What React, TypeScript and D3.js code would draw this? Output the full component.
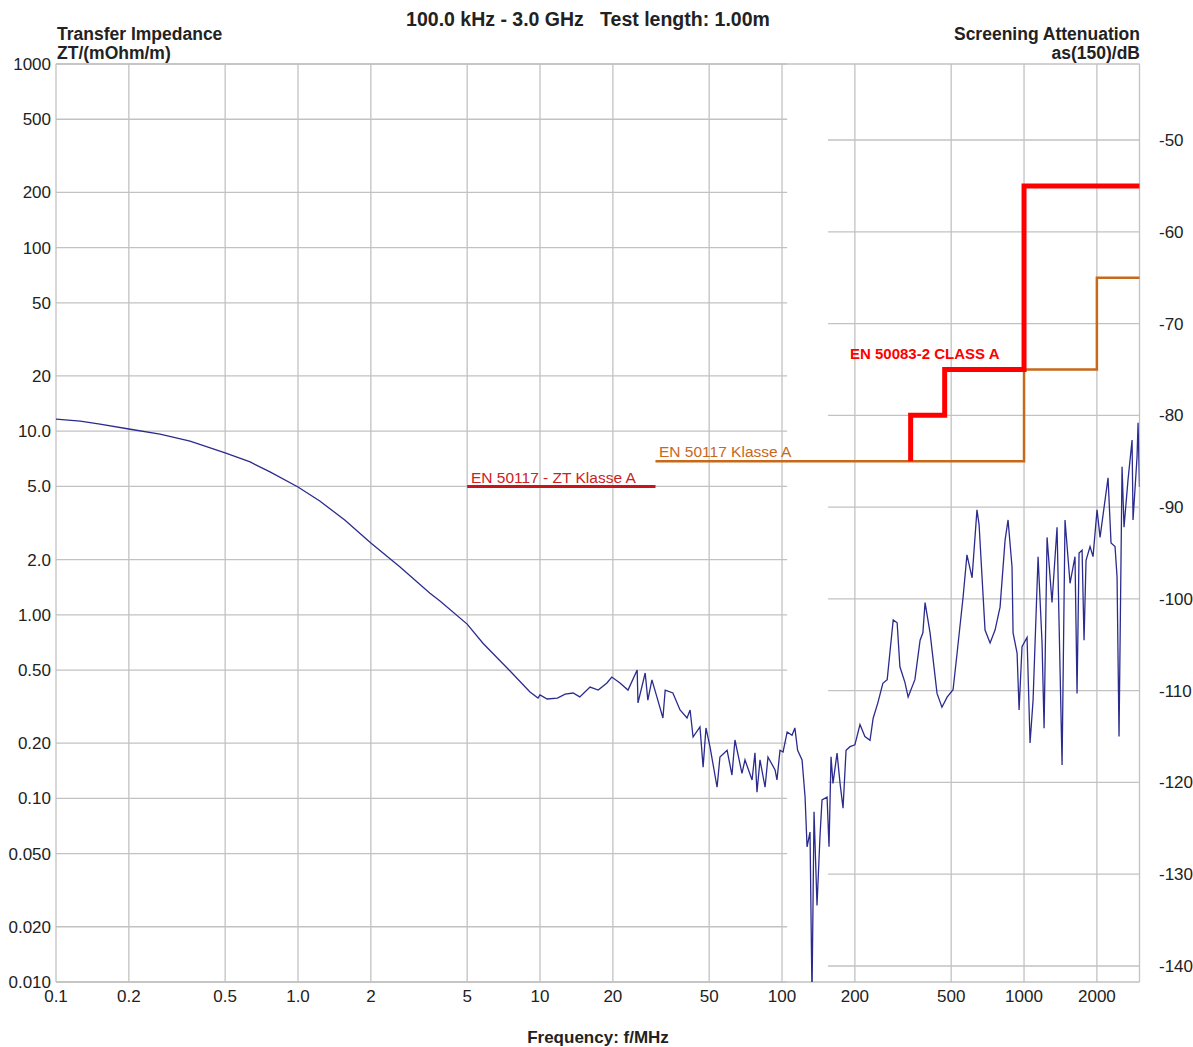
import * as d3 from 'd3';

// measured curve: transfer impedance (mOhm/m) up to ~130 MHz
const freqLow = [0.1, 0.126, 0.152, 0.2, 0.269, 0.358, 0.5, 0.634, 0.766, 1.0, 1.23, 1.56, 2.0, 2.64, 3.51, 3.86, 5.0, 5.81, 7.52, 9.09, 9.81, 10, 10.7, 11.8, 12.7, 13.7, 14.6, 16.1, 17.4, 18.9, 19.8, 21.4, 23.1, 25.2, 25.4, 27.2, 27.9, 29.0, 30.4, 32.2, 32.9, 35.4, 37.9, 40.5, 41.7, 42.9, 45.8, 47.2, 48.5, 50.4, 53.9, 55.4, 59.3, 62.1, 63.9, 68.3, 70.3, 75.2, 77.3, 78.8, 81.1, 85.1, 87.5, 93.6, 95.3, 98.1, 101, 105, 110, 113, 116, 121, 124.5, 126.9, 130.5];
const ztLow = [11.65, 11.36, 10.94, 10.28, 9.65, 8.84, 7.61, 6.8, 6.0, 4.97, 4.17, 3.28, 2.46, 1.82, 1.31, 1.19, 0.89, 0.7, 0.494, 0.38, 0.352, 0.366, 0.348, 0.352, 0.37, 0.375, 0.357, 0.404, 0.389, 0.425, 0.458, 0.425, 0.389, 0.5, 0.331, 0.482, 0.343, 0.442, 0.357, 0.274, 0.389, 0.375, 0.303, 0.274, 0.303, 0.216, 0.245, 0.148, 0.242, 0.191, 0.115, 0.168, 0.183, 0.134, 0.208, 0.137, 0.162, 0.126, 0.177, 0.108, 0.162, 0.115, 0.168, 0.143, 0.126, 0.183, 0.179, 0.23, 0.221, 0.242, 0.183, 0.162, 0.102, 0.0544, 0.0656];

// measured curve continued: screening attenuation (dB)
const freqHigh = [133, 135.6, 139.5, 143.5, 146.3, 153.5, 156.4, 159.4, 162.4, 168.8, 173.7, 178.7, 183.9, 191, 200, 210, 220, 231, 238, 249, 261, 272, 279, 288, 299, 307, 322, 332, 354, 372, 382, 390, 409, 437, 458, 481, 509, 529, 560, 581, 610, 639, 652, 690, 724, 759, 796, 835, 859, 892, 901, 936, 954, 981, 1029, 1059, 1090, 1143, 1187, 1210, 1245, 1305, 1369, 1436, 1477, 1549, 1624, 1656, 1688, 1737, 1770, 1804, 1874, 1928, 2003, 2061, 2224, 2288, 2377, 2423, 2469, 2541, 2589, 2690, 2795, 2821, 2931, 2959, 3000];
const asHigh = [-143.2, -123.2, -133.4, -125.9, -121.9, -121.6, -127.0, -117.2, -120.1, -116.8, -120.1, -122.8, -116.5, -116.1, -115.9, -113.7, -115.0, -115.4, -113.0, -111.3, -109.2, -108.8, -105.9, -102.3, -102.6, -107.4, -109.1, -110.7, -108.8, -104.5, -103.7, -100.4, -103.7, -110.3, -111.8, -110.7, -109.9, -105.9, -99.8, -95.2, -97.7, -90.3, -91.9, -103.4, -104.8, -103.4, -100.9, -93.6, -91.4, -96.5, -103.7, -105.9, -112.1, -105.2, -104.2, -115.7, -111.0, -95.4, -104.8, -114.1, -93.3, -100.4, -92.2, -118.1, -91.4, -98.3, -95.4, -110.3, -95.0, -94.7, -104.5, -95.8, -94.3, -95.4, -90.3, -93.3, -86.8, -93.9, -94.3, -97.6, -115.0, -85.6, -92.2, -87.0, -82.7, -91.4, -84.5, -80.8, -87.8];

// limit lines
const ztLimitFreq = [5, 30];
const ztLimitValue = [5, 5];
const en50117Freq = [30, 1000, 2000, 3000];
const en50117Db = [-85, -75, -65, -65];
const en50083Freq = [340, 340, 470, 1000, 3000];
const en50083Db = [-85, -80, -75, -55, -55];

// axes
const zTicks = [1000, 500, 200, 100, 50, 20, 10, 5, 2, 1, 0.5, 0.2, 0.1, 0.05, 0.02, 0.01];
const zTickLabels = ['1000', '500', '200', '100', '50', '20', '10.0', '5.0', '2.0', '1.00', '0.50', '0.20', '0.10', '0.050', '0.020', '0.010'];
const fTicks = [0.1, 0.2, 0.5, 1, 2, 5, 10, 20, 50, 100, 200, 500, 1000, 2000];
const fTickLabels = ['0.1', '0.2', '0.5', '1.0', '2', '5', '10', '20', '50', '100', '200', '500', '1000', '2000'];
const asTicks = [-50, -60, -70, -80, -90, -100, -110, -120, -130, -140];

const W = 1193;
const H = 1047;
const left = 56;
const right = 1139.5;
const top = 64;
const bottom = 982;

const font = "'Liberation Sans', Arial, sans-serif";
const gridColor = '#c2c2c2';

export default function App() {
  const x = d3.scaleLog().domain([0.1, 3000]).range([left, right]);
  const yL = d3.scaleLog().domain([0.01, 1000]).range([bottom, top]);
  const yR = d3.scaleLinear().domain([-140, -50]).range([966, 140]);

  const line = d3.line<[number, number]>();
  const stepLine = d3.line<[number, number]>().curve(d3.curveStepAfter);

  const curvePts: [number, number][] = [
    ...freqLow.map((f, i) => [x(f), yL(ztLow[i])] as [number, number]),
    ...freqHigh.map((f, i) => [x(f), yR(asHigh[i])] as [number, number]),
  ];

  const ztLimit = ztLimitFreq.map((f, i) => [x(f), yL(ztLimitValue[i])] as [number, number]);
  const en50117 = en50117Freq.map((f, i) => [x(f), yR(en50117Db[i])] as [number, number]);
  const en50083 = en50083Freq.map((f, i) => [x(f), yR(en50083Db[i])] as [number, number]);

  const leftGridEnd = x(105);
  const rightGridStart = x(155);

  return (
    <svg width={W} height={H} style={{ position: 'absolute', left: 0, top: 0, background: '#fff' }} fontFamily={font}>
      <defs>
        <clipPath id="plot">
          <rect x={left} y={top} width={right - left} height={bottom - top} />
        </clipPath>
      </defs>

      {/* horizontal grid, left axis */}
      {zTicks.map((t) => (
        <line key={'zg' + t} x1={left} x2={leftGridEnd} y1={yL(t)} y2={yL(t)} stroke={gridColor} strokeWidth={1.3} />
      ))}
      {/* horizontal grid, right axis */}
      {asTicks.map((t) => (
        <line key={'ag' + t} x1={rightGridStart} x2={right} y1={yR(t)} y2={yR(t)} stroke={gridColor} strokeWidth={1.3} />
      ))}
      {/* vertical grid */}
      {[...fTicks, 3000].map((t) => (
        <line key={'fg' + t} x1={x(t)} x2={x(t)} y1={top} y2={bottom} stroke={gridColor} strokeWidth={1.3} />
      ))}
      <line x1={left} x2={right} y1={top} y2={top} stroke={gridColor} strokeWidth={1.3} />
      <line x1={left} x2={right} y1={bottom} y2={bottom} stroke={gridColor} strokeWidth={1.5} />

      {/* measured curve */}
      <path d={line(curvePts) || ''} fill="none" stroke="#2b2b8e" strokeWidth={1.3} clipPath="url(#plot)" />

      {/* limits */}
      <path d={line(ztLimit) || ''} fill="none" stroke="#c8141c" strokeWidth={3} />
      <path d={stepLine(en50117) || ''} fill="none" stroke="#c8681a" strokeWidth={2.5} />
      <path d={stepLine(en50083) || ''} fill="none" stroke="#ff0000" strokeWidth={5} strokeLinejoin="miter" />

      <text x={471} y={483} fontSize={15.5} fill="#cc2222">EN 50117 - ZT Klasse A</text>
      <text x={659} y={457} fontSize={15.5} fill="#c8681a">EN 50117 Klasse A</text>
      <text x={850} y={359} fontSize={15} fontWeight="bold" fill="#ff0000">EN 50083-2 CLASS A</text>

      {/* left tick labels */}
      {zTicks.map((t, i) => (
        <text key={'zl' + t} x={51} y={yL(t) + 6} fontSize={17} textAnchor="end" fill="#222">
          {zTickLabels[i]}
        </text>
      ))}
      {/* bottom tick labels */}
      {fTicks.map((t, i) => (
        <text key={'fl' + t} x={x(t)} y={1002} fontSize={17} textAnchor="middle" fill="#222">
          {fTickLabels[i]}
        </text>
      ))}
      {/* right tick labels */}
      {asTicks.map((t) => (
        <text key={'al' + t} x={1159} y={yR(t) + 6} fontSize={17} fill="#222">
          {t}
        </text>
      ))}

      {/* titles */}
      <text x={588} y={26} fontSize={19.5} fontWeight="bold" textAnchor="middle" fill="#222" style={{ whiteSpace: 'pre' }}>
        {'100.0 kHz - 3.0 GHz   Test length: 1.00m'}
      </text>
      <text x={57} y={40} fontSize={17.5} fontWeight="bold" fill="#222">Transfer Impedance</text>
      <text x={57} y={59} fontSize={17.5} fontWeight="bold" fill="#222">ZT/(mOhm/m)</text>
      <text x={1140} y={40} fontSize={17.5} fontWeight="bold" textAnchor="end" fill="#222">Screening Attenuation</text>
      <text x={1140} y={59} fontSize={17.5} fontWeight="bold" textAnchor="end" fill="#222">as(150)/dB</text>
      <text x={598} y={1043} fontSize={17} fontWeight="bold" textAnchor="middle" fill="#222">Frequency: f/MHz</text>
    </svg>
  );
}
